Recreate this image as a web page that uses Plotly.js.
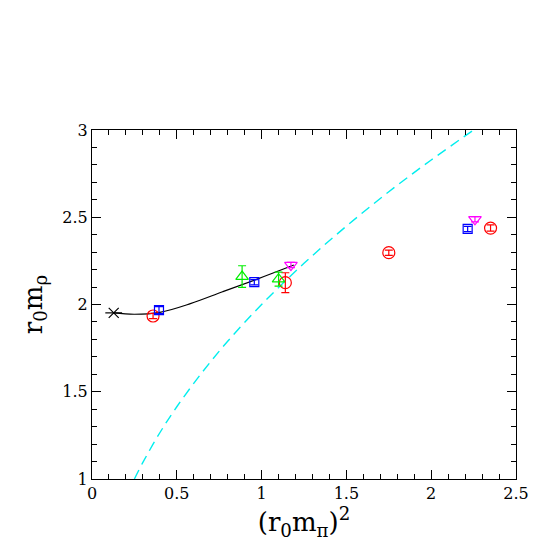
<!DOCTYPE html>
<html>
<head>
<meta charset="utf-8">
<script src="https://cdn.plot.ly/plotly-3.0.1.min.js"></script>
<style>
  html, body { margin: 0; padding: 0; background: white; }
  #plot { width: 545px; height: 545px; }
</style>
</head>
<body>
<div id="plot"></div>
<script>
// values
const redX = [0.36, 1.14, 1.75, 2.35];
const redY = [1.934, 2.125, 2.297, 2.438];
const redErr = [0.015, 0.057, 0.015, 0.018];

const blueX = [0.395, 0.957, 2.215];
const blueY = [1.968, 2.128, 2.433];
const blueErr = [0.02, 0.015, 0.015];

const greenX = [0.885, 1.10];
const greenY = [2.16, 2.145];
const greenErr = [0.062, 0.04];

const magentaX = [1.173, 2.258];
const magentaY = [2.226, 2.488];
const magentaErr = [0.015, 0.015];

const chiralX = [0.128];
const chiralY = [1.952];

// fit curve
const fitX = [0.128, 0.25, 0.4, 0.58, 0.77, 0.97, 1.19];
const fitY = [1.952, 1.944, 1.955, 2.005, 2.073, 2.144, 2.226];

// two-pion threshold line
const thrX = [0.25, 0.3, 0.4, 0.5, 0.65, 0.8, 1.0, 1.25, 1.5, 1.75, 2.0, 2.25];
const thrY = [1.0, 1.095, 1.265, 1.414, 1.612, 1.789, 2.0, 2.236, 2.449, 2.646, 2.828, 3.0];

const xTicks = [0, 0.5, 1, 1.5, 2, 2.5];
const xTickText = ['0', '0.5', '1', '1.5', '2', '2.5'];
const yTicks = [1, 1.5, 2, 2.5, 3];
const yTickText = ['1', '1.5', '2', '2.5', '3'];

function errTrace(x, y, err, color, symbol, size) {
    return {
        x: x, y: y, type: 'scatter', mode: 'markers',
        marker: { symbol: symbol, size: size, color: color, line: { color: color, width: 1.2 } },
        error_y: { type: 'data', array: err, visible: true, color: color, thickness: 1.2, width: 4 },
        showlegend: false, hoverinfo: 'skip'
    };
}

const data = [
    {
        x: thrX, y: thrY, type: 'scatter', mode: 'lines',
        line: { color: '#00eeee', width: 1.4, dash: '10px,6px', shape: 'spline' },
        showlegend: false
    },
    {
        x: fitX, y: fitY, type: 'scatter', mode: 'lines',
        line: { color: 'black', width: 1.2, shape: 'spline', smoothing: 1 },
        showlegend: false
    },
    errTrace(redX, redY, redErr, '#ff0000', 'circle-open', 12),
    errTrace(blueX, blueY, blueErr, '#0000ff', 'square-open', 9),
    errTrace(greenX, greenY, greenErr, '#00ee00', 'triangle-up-open', 11),
    errTrace(magentaX, magentaY, magentaErr, '#ff00ff', 'triangle-down-open', 11),
    {
        x: chiralX, y: chiralY, type: 'scatter', mode: 'markers',
        marker: { symbol: 'x-thin-open', size: 10, color: 'black', line: { color: 'black', width: 1.2 } },
        showlegend: false
    },
    {
        x: chiralX, y: chiralY, type: 'scatter', mode: 'markers',
        marker: { symbol: 'line-ew-open', size: 12, color: 'black', line: { color: 'black', width: 1.2 } },
        showlegend: false
    }
];

const axisCommon = {
    showgrid: false, zeroline: false,
    showline: true, mirror: 'allticks', linecolor: 'black', linewidth: 1,
    ticks: 'inside', ticklen: 9, tickwidth: 1, tickcolor: 'black',
    tickfont: { family: 'DejaVu Serif, serif', size: 16, color: 'black' }
};

const layout = {
    width: 545, height: 545,
    margin: { l: 92, r: 29, t: 130, b: 66 },
    paper_bgcolor: 'white', plot_bgcolor: 'white',
    xaxis: Object.assign({}, axisCommon, {
        range: [0, 2.5], tickvals: xTicks, ticktext: xTickText,
        minor: { dtick: 0.1, ticks: 'inside', ticklen: 5, tickcolor: 'black', tickwidth: 1 },
        title: { text: '(r<sub>0</sub>m<sub>π</sub>)<sup>2</sup>', font: { family: 'DejaVu Serif, serif', size: 26, color: 'black' }, standoff: 6 }
    }),
    yaxis: Object.assign({}, axisCommon, {
        range: [1, 3], tickvals: yTicks, ticktext: yTickText,
        minor: { dtick: 0.1, ticks: 'inside', ticklen: 5, tickcolor: 'black', tickwidth: 1 },
        title: { text: 'r<sub>0</sub>m<sub>ρ</sub>', font: { family: 'DejaVu Serif, serif', size: 26, color: 'black' }, standoff: 12 }
    })
};

Plotly.newPlot('plot', data, layout, { staticPlot: true });
</script>
</body>
</html>
